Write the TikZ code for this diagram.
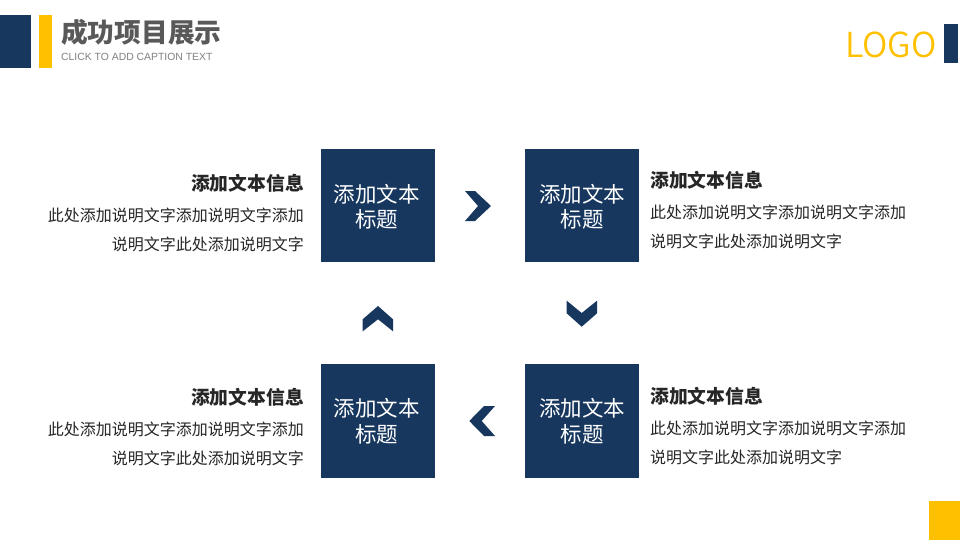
\documentclass[tikz,border=0pt]{standalone}
\usepackage{fontspec}
\setmainfont{Liberation Sans}
\newfontfamily\cjk{Noto Sans CJK SC}
\newfontfamily\cjklight{Noto Sans CJK SC DemiLight}
\definecolor{navy}{HTML}{17375E}
\definecolor{gold}{HTML}{FFC000}
\definecolor{titlegray}{HTML}{595959}
\definecolor{bodyink}{HTML}{262626}
\newcommand{\lowered}[1]{\raisebox{-1pt}[\height][\depth]{#1}}
\tikzset{
  x=1pt,y=-1pt,
  square/.style={fill=navy,text=white,minimum width=114pt,minimum height=114pt,inner sep=0pt,anchor=north west,align=center,font=\cjk\fontsize{21.5}{25}\selectfont},
  chev/.style={fill=navy,draw=none},
  head/.style={font=\cjk\bfseries\fontsize{18.8}{18.8}\selectfont,text=bodyink,inner sep=0pt},
  body/.style={font=\cjk\fontsize{16}{29}\selectfont,text=bodyink,inner sep=0pt},
}
\begin{document}
\begin{tikzpicture}
\useasboundingbox[fill=white] (0,0) rectangle (960,540);
\fill[navy] (0,15) rectangle (31,68);
\fill[gold] (39,15) rectangle (52,68);
\node[anchor=west,inner sep=0pt,text=titlegray,font=\cjk\bfseries\fontsize{26.7}{26.7}\selectfont] (title) at (61,32) {成功项目展示};
\node[anchor=west,inner sep=0pt,text=gray,font=\fontsize{10.4}{11}\selectfont] (cap) at (61,56.5) {CLICK TO ADD CAPTION TEXT};
\node[anchor=east,inner sep=0pt,text=gold,font=\cjklight\fontsize{34.4}{34.4}\selectfont] (logo) at (937,45) {LOGO};
\fill[navy] (944,24) rectangle (958,63);
\fill[gold] (929,501) rectangle (960,540);

\node[square,minimum height=113pt] (a) at (321,149) {\hspace*{-3pt}\lowered{添加文本}\\\hspace*{-3pt}\lowered{标题}};
\node[square,minimum height=113pt] (b) at (525,149) {\lowered{添加文本}\\\lowered{标题}};
\node[square] (c) at (525,364) {添加文本\\\lowered{标题}};
\node[square] (d) at (321,364) {\hspace*{-3pt}添加文本\\\hspace*{-3pt}\lowered{标题}};

\fill[chev] (465,191) -- (475,191) -- (491,206) -- (475,221) -- (465,221) -- (478,206) -- cycle;
\fill[chev] (566.7,300.7) -- (581.7,313) -- (597,300.7) -- (597,313.3) -- (581.7,326.7) -- (566.7,313.3) -- cycle;
\fill[chev] (495,406) -- (484,406) -- (469.3,421) -- (484,436) -- (495,436) -- (481.7,421) -- cycle;
\fill[chev] (362.7,319.3) -- (378,306) -- (393,319.3) -- (393,331.3) -- (378,319.3) -- (362.7,331.3) -- cycle;

\node[head,anchor=east] (h1) at (304,183) {添加文本信息};
\node[body,anchor=north east,align=right] (t1) at (304,208) {此处添加说明文字添加说明文字添加\\说明文字此处添加说明文字};
\node[head,anchor=west] (h2) at (650,180) {添加文本信息};
\node[body,anchor=north west,align=left] (t2) at (650,205) {此处添加说明文字添加说明文字添加\\说明文字此处添加说明文字};
\node[head,anchor=east] (h3) at (304,397) {添加文本信息};
\node[body,anchor=north east,align=right] (t3) at (304,422) {此处添加说明文字添加说明文字添加\\说明文字此处添加说明文字};
\node[head,anchor=west] (h4) at (650,396) {添加文本信息};
\node[body,anchor=north west,align=left] (t4) at (650,421) {此处添加说明文字添加说明文字添加\\说明文字此处添加说明文字};
\end{tikzpicture}
\end{document}
